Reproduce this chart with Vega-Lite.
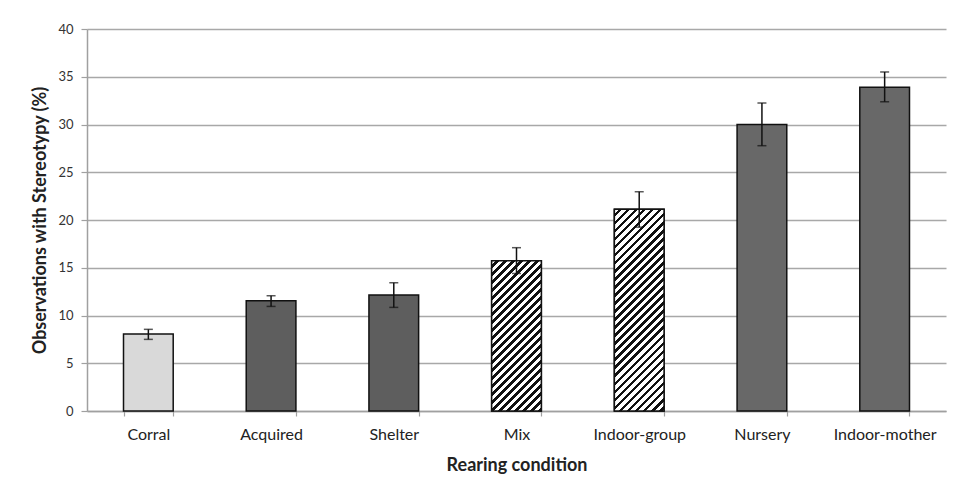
{
  "$schema": "https://vega.github.io/schema/vega-lite/v6.json",
  "width": 859,
  "height": 382,
  "autosize": {"type": "none"},
  "padding": {"left": 87, "top": 29, "right": 11, "bottom": 83},
  "background": "white",
  "config": {
    "view": {"stroke": null},
    "font": "Lato",
    "axis": {"labelFont": "Lato", "titleFont": "Lato"}
  },
  "data": {
    "values": [
      {"condition": "Corral", "value": 8.05, "lo": 7.5, "hi": 8.55, "style": "light"},
      {"condition": "Acquired", "value": 11.55, "lo": 10.95, "hi": 12.07, "style": "dotted"},
      {"condition": "Shelter", "value": 12.15, "lo": 10.85, "hi": 13.43, "style": "dotted"},
      {"condition": "Mix", "value": 15.74, "lo": 14.4, "hi": 17.1, "style": "hatched"},
      {"condition": "Indoor-group", "value": 21.12, "lo": 19.25, "hi": 22.96, "style": "hatched"},
      {"condition": "Nursery", "value": 30.0, "lo": 27.78, "hi": 32.25, "style": "dark"},
      {"condition": "Indoor-mother", "value": 33.9, "lo": 32.38, "hi": 35.5, "style": "dark"}
    ]
  },
  "encoding": {
    "x": {
      "field": "condition",
      "type": "nominal",
      "sort": null,
      "scale": {"paddingInner": 0.595, "paddingOuter": 0.2975},
      "axis": {
        "title": "Rearing condition",
        "labelAngle": 0,
        "labelFontSize": 16,
        "labelColor": "#222",
        "labelPadding": 10,
        "titleFontSize": 18,
        "titleFontWeight": "bold",
        "titleColor": "#222",
        "titlePadding": 14,
        "domainColor": "#a0a0a0",
        "domainWidth": 1.5,
        "tickColor": "#a0a0a0",
        "tickWidth": 1.2,
        "tickSize": 5,
        "tickBand": "extent",
        "grid": false
      }
    }
  },
  "layer": [
    {
      "mark": {"type": "bar", "stroke": "#111", "strokeWidth": 1.5},
      "encoding": {
        "y": {
          "field": "value",
          "type": "quantitative",
          "scale": {"domain": [0, 40], "nice": false},
          "axis": {
            "title": "Observations with Stereotypy (%)",
            "values": [0, 5, 10, 15, 20, 25, 30, 35, 40],
            "labelFontSize": 13,
            "labelColor": "#333",
            "labelPadding": 8,
            "titleFontSize": 18,
            "titleFontWeight": "bold",
            "titleColor": "#222",
            "titlePadding": 8,
            "domainColor": "#a0a0a0",
            "domainWidth": 1.5,
            "tickColor": "#a0a0a0",
            "tickWidth": 1.2,
            "tickSize": 6,
            "gridColor": "#a8a8a8",
            "gridWidth": 1.5
          }
        },
        "fill": {
          "field": "style",
          "type": "nominal",
          "scale": {
            "domain": ["light", "dotted", "hatched", "dark"],
            "range": ["#d9d9d9", "#5e5e5e", "#ffffff", "#686868"]
          },
          "legend": null
        }
      }
    },
    {
      "transform": [{"filter": "datum.condition === 'Mix'"}],
      "mark": {
        "type": "bar",
        "stroke": "#111",
        "strokeWidth": 1.5,
        "fill": {
          "gradient": "linear",
          "x1": 0, "y1": 0, "x2": 0.3967, "y2": 1.1995,
          "stops": [
            {"offset": 0, "color": "#fff"}, {"offset": 0.023, "color": "#fff"}, {"offset": 0.023, "color": "#111"}, {"offset": 0.04, "color": "#111"},
            {"offset": 0.04, "color": "#fff"}, {"offset": 0.063, "color": "#fff"}, {"offset": 0.063, "color": "#111"}, {"offset": 0.08, "color": "#111"},
            {"offset": 0.08, "color": "#fff"}, {"offset": 0.103, "color": "#fff"}, {"offset": 0.103, "color": "#111"}, {"offset": 0.12, "color": "#111"},
            {"offset": 0.12, "color": "#fff"}, {"offset": 0.143, "color": "#fff"}, {"offset": 0.143, "color": "#111"}, {"offset": 0.16, "color": "#111"},
            {"offset": 0.16, "color": "#fff"}, {"offset": 0.183, "color": "#fff"}, {"offset": 0.183, "color": "#111"}, {"offset": 0.2, "color": "#111"},
            {"offset": 0.2, "color": "#fff"}, {"offset": 0.223, "color": "#fff"}, {"offset": 0.223, "color": "#111"}, {"offset": 0.24, "color": "#111"},
            {"offset": 0.24, "color": "#fff"}, {"offset": 0.263, "color": "#fff"}, {"offset": 0.263, "color": "#111"}, {"offset": 0.28, "color": "#111"},
            {"offset": 0.28, "color": "#fff"}, {"offset": 0.303, "color": "#fff"}, {"offset": 0.303, "color": "#111"}, {"offset": 0.32, "color": "#111"},
            {"offset": 0.32, "color": "#fff"}, {"offset": 0.343, "color": "#fff"}, {"offset": 0.343, "color": "#111"}, {"offset": 0.36, "color": "#111"},
            {"offset": 0.36, "color": "#fff"}, {"offset": 0.383, "color": "#fff"}, {"offset": 0.383, "color": "#111"}, {"offset": 0.4, "color": "#111"},
            {"offset": 0.4, "color": "#fff"}, {"offset": 0.423, "color": "#fff"}, {"offset": 0.423, "color": "#111"}, {"offset": 0.44, "color": "#111"},
            {"offset": 0.44, "color": "#fff"}, {"offset": 0.463, "color": "#fff"}, {"offset": 0.463, "color": "#111"}, {"offset": 0.48, "color": "#111"},
            {"offset": 0.48, "color": "#fff"}, {"offset": 0.503, "color": "#fff"}, {"offset": 0.503, "color": "#111"}, {"offset": 0.52, "color": "#111"},
            {"offset": 0.52, "color": "#fff"}, {"offset": 0.543, "color": "#fff"}, {"offset": 0.543, "color": "#111"}, {"offset": 0.56, "color": "#111"},
            {"offset": 0.56, "color": "#fff"}, {"offset": 0.583, "color": "#fff"}, {"offset": 0.583, "color": "#111"}, {"offset": 0.6, "color": "#111"},
            {"offset": 0.6, "color": "#fff"}, {"offset": 0.623, "color": "#fff"}, {"offset": 0.623, "color": "#111"}, {"offset": 0.64, "color": "#111"},
            {"offset": 0.64, "color": "#fff"}, {"offset": 0.663, "color": "#fff"}, {"offset": 0.663, "color": "#111"}, {"offset": 0.68, "color": "#111"},
            {"offset": 0.68, "color": "#fff"}, {"offset": 0.703, "color": "#fff"}, {"offset": 0.703, "color": "#111"}, {"offset": 0.72, "color": "#111"},
            {"offset": 0.72, "color": "#fff"}, {"offset": 0.743, "color": "#fff"}, {"offset": 0.743, "color": "#111"}, {"offset": 0.76, "color": "#111"},
            {"offset": 0.76, "color": "#fff"}, {"offset": 0.783, "color": "#fff"}, {"offset": 0.783, "color": "#111"}, {"offset": 0.8, "color": "#111"},
            {"offset": 0.8, "color": "#fff"}, {"offset": 0.823, "color": "#fff"}, {"offset": 0.823, "color": "#111"}, {"offset": 0.84, "color": "#111"},
            {"offset": 0.84, "color": "#fff"}, {"offset": 0.863, "color": "#fff"}, {"offset": 0.863, "color": "#111"}, {"offset": 0.88, "color": "#111"},
            {"offset": 0.88, "color": "#fff"}, {"offset": 0.903, "color": "#fff"}, {"offset": 0.903, "color": "#111"}, {"offset": 0.92, "color": "#111"},
            {"offset": 0.92, "color": "#fff"}, {"offset": 0.943, "color": "#fff"}, {"offset": 0.943, "color": "#111"}, {"offset": 0.96, "color": "#111"},
            {"offset": 0.96, "color": "#fff"}, {"offset": 0.983, "color": "#fff"}, {"offset": 0.983, "color": "#111"}, {"offset": 1, "color": "#111"}
          ]
        }
      },
      "encoding": {
        "y": {"field": "value", "type": "quantitative"}
      }
    },
    {
      "transform": [{"filter": "datum.condition === 'Indoor-group'"}],
      "mark": {
        "type": "bar",
        "stroke": "#111",
        "strokeWidth": 1.5,
        "fill": {
          "gradient": "linear",
          "x1": 0, "y1": 0, "x2": 0.2895, "y2": 1.1751,
          "stops": [
            {"offset": 0, "color": "#fff"}, {"offset": 0.0176, "color": "#fff"}, {"offset": 0.0176, "color": "#111"}, {"offset": 0.032, "color": "#111"},
            {"offset": 0.032, "color": "#fff"}, {"offset": 0.0496, "color": "#fff"}, {"offset": 0.0496, "color": "#111"}, {"offset": 0.064, "color": "#111"},
            {"offset": 0.064, "color": "#fff"}, {"offset": 0.0816, "color": "#fff"}, {"offset": 0.0816, "color": "#111"}, {"offset": 0.096, "color": "#111"},
            {"offset": 0.096, "color": "#fff"}, {"offset": 0.1136, "color": "#fff"}, {"offset": 0.1136, "color": "#111"}, {"offset": 0.128, "color": "#111"},
            {"offset": 0.128, "color": "#fff"}, {"offset": 0.1456, "color": "#fff"}, {"offset": 0.1456, "color": "#111"}, {"offset": 0.16, "color": "#111"},
            {"offset": 0.16, "color": "#fff"}, {"offset": 0.1776, "color": "#fff"}, {"offset": 0.1776, "color": "#111"}, {"offset": 0.192, "color": "#111"},
            {"offset": 0.192, "color": "#fff"}, {"offset": 0.2096, "color": "#fff"}, {"offset": 0.2096, "color": "#111"}, {"offset": 0.224, "color": "#111"},
            {"offset": 0.224, "color": "#fff"}, {"offset": 0.2416, "color": "#fff"}, {"offset": 0.2416, "color": "#111"}, {"offset": 0.256, "color": "#111"},
            {"offset": 0.256, "color": "#fff"}, {"offset": 0.2736, "color": "#fff"}, {"offset": 0.2736, "color": "#111"}, {"offset": 0.288, "color": "#111"},
            {"offset": 0.288, "color": "#fff"}, {"offset": 0.3056, "color": "#fff"}, {"offset": 0.3056, "color": "#111"}, {"offset": 0.32, "color": "#111"},
            {"offset": 0.32, "color": "#fff"}, {"offset": 0.3376, "color": "#fff"}, {"offset": 0.3376, "color": "#111"}, {"offset": 0.352, "color": "#111"},
            {"offset": 0.352, "color": "#fff"}, {"offset": 0.3696, "color": "#fff"}, {"offset": 0.3696, "color": "#111"}, {"offset": 0.384, "color": "#111"},
            {"offset": 0.384, "color": "#fff"}, {"offset": 0.4016, "color": "#fff"}, {"offset": 0.4016, "color": "#111"}, {"offset": 0.416, "color": "#111"},
            {"offset": 0.416, "color": "#fff"}, {"offset": 0.4336, "color": "#fff"}, {"offset": 0.4336, "color": "#111"}, {"offset": 0.448, "color": "#111"},
            {"offset": 0.448, "color": "#fff"}, {"offset": 0.4656, "color": "#fff"}, {"offset": 0.4656, "color": "#111"}, {"offset": 0.48, "color": "#111"},
            {"offset": 0.48, "color": "#fff"}, {"offset": 0.4976, "color": "#fff"}, {"offset": 0.4976, "color": "#111"}, {"offset": 0.512, "color": "#111"},
            {"offset": 0.512, "color": "#fff"}, {"offset": 0.5296, "color": "#fff"}, {"offset": 0.5296, "color": "#111"}, {"offset": 0.544, "color": "#111"},
            {"offset": 0.544, "color": "#fff"}, {"offset": 0.5616, "color": "#fff"}, {"offset": 0.5616, "color": "#111"}, {"offset": 0.576, "color": "#111"},
            {"offset": 0.576, "color": "#fff"}, {"offset": 0.5936, "color": "#fff"}, {"offset": 0.5936, "color": "#111"}, {"offset": 0.608, "color": "#111"},
            {"offset": 0.608, "color": "#fff"}, {"offset": 0.6256, "color": "#fff"}, {"offset": 0.6256, "color": "#111"}, {"offset": 0.64, "color": "#111"},
            {"offset": 0.64, "color": "#fff"}, {"offset": 0.6576, "color": "#fff"}, {"offset": 0.6576, "color": "#111"}, {"offset": 0.672, "color": "#111"},
            {"offset": 0.672, "color": "#fff"}, {"offset": 0.6896, "color": "#fff"}, {"offset": 0.6896, "color": "#111"}, {"offset": 0.704, "color": "#111"},
            {"offset": 0.704, "color": "#fff"}, {"offset": 0.7216, "color": "#fff"}, {"offset": 0.7216, "color": "#111"}, {"offset": 0.736, "color": "#111"},
            {"offset": 0.736, "color": "#fff"}, {"offset": 0.7536, "color": "#fff"}, {"offset": 0.7536, "color": "#111"}, {"offset": 0.768, "color": "#111"},
            {"offset": 0.768, "color": "#fff"}, {"offset": 0.7856, "color": "#fff"}, {"offset": 0.7856, "color": "#111"}, {"offset": 0.8, "color": "#111"},
            {"offset": 0.8, "color": "#fff"}, {"offset": 0.8176, "color": "#fff"}, {"offset": 0.8176, "color": "#111"}, {"offset": 0.832, "color": "#111"},
            {"offset": 0.832, "color": "#fff"}, {"offset": 0.8496, "color": "#fff"}, {"offset": 0.8496, "color": "#111"}, {"offset": 0.864, "color": "#111"},
            {"offset": 0.864, "color": "#fff"}, {"offset": 0.8816, "color": "#fff"}, {"offset": 0.8816, "color": "#111"}, {"offset": 0.896, "color": "#111"},
            {"offset": 0.896, "color": "#fff"}, {"offset": 0.9136, "color": "#fff"}, {"offset": 0.9136, "color": "#111"}, {"offset": 0.928, "color": "#111"},
            {"offset": 0.928, "color": "#fff"}, {"offset": 0.9456, "color": "#fff"}, {"offset": 0.9456, "color": "#111"}, {"offset": 0.96, "color": "#111"},
            {"offset": 0.96, "color": "#fff"}, {"offset": 0.9776, "color": "#fff"}, {"offset": 0.9776, "color": "#111"}, {"offset": 0.992, "color": "#111"},
            {"offset": 0.992, "color": "#fff"}, {"offset": 1, "color": "#fff"}
          ]
        }
      },
      "encoding": {
        "y": {"field": "value", "type": "quantitative"}
      }
    },
    {
      "mark": {"type": "rule", "color": "#111", "strokeWidth": 1.5},
      "encoding": {
        "y": {"field": "lo", "type": "quantitative"},
        "y2": {"field": "hi"}
      }
    },
    {
      "mark": {"type": "tick", "color": "#111", "thickness": 1.5, "size": 9},
      "encoding": {
        "y": {"field": "lo", "type": "quantitative"}
      }
    },
    {
      "mark": {"type": "tick", "color": "#111", "thickness": 1.5, "size": 9},
      "encoding": {
        "y": {"field": "hi", "type": "quantitative"}
      }
    }
  ]
}
